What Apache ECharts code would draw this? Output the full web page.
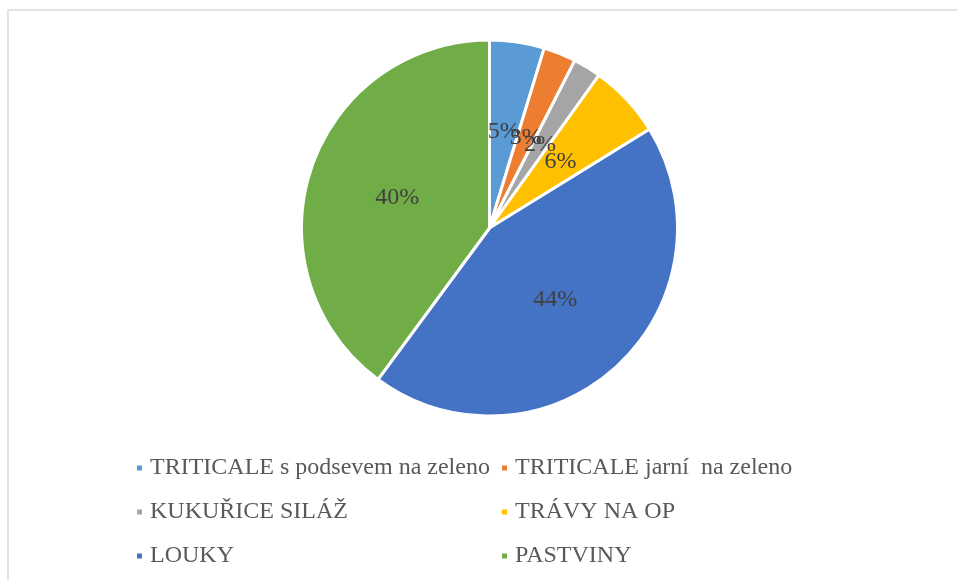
<!DOCTYPE html>
<html>
<head>
<meta charset="utf-8">
<script src="https://cdn.jsdelivr.net/npm/echarts@6/dist/echarts.min.js"></script>
<style>
  html, body { margin: 0; padding: 0; background: #fff; }
  #chart { width: 957px; height: 580px; }
</style>
</head>
<body>
<div id="chart"></div>
<script>
// kategorie a hodnoty
var categories = [
  'TRITICALE s podsevem na zeleno',
  'TRITICALE jarní  na zeleno',
  'KUKUŘICE SILÁŽ',
  'TRÁVY NA OP',
  'LOUKY',
  'PASTVINY'
]
var values = [4.7, 2.8, 2.4, 6.3, 43.9, 39.9]
var colors = ['#5B9BD5', '#ED7D31', '#A5A5A5', '#FFC000', '#4472C4', '#70AD47']

var serif = "'Liberation Serif', 'Times New Roman', serif"

var pieData = categories.map(function (name, i) {
  return { name: name, value: values[i] }
})

var legendText = {
  fontFamily: serif,
  fontSize: 24,
  lineHeight: 24,
  color: '#595959',
  padding: [0, 0, 0, 2]
}

var option = {
  animation: false,
  color: colors,
  graphic: [
    {
      type: 'rect',
      shape: { x: 8, y: 10, width: 960, height: 580 },
      style: { fill: 'none', stroke: '#d9d9d9', lineWidth: 1.5 },
      silent: true
    }
  ],
  legend: [
    {
      orient: 'vertical',
      left: 135,
      top: 456,
      padding: 0,
      itemGap: 20,
      itemWidth: 7,
      itemHeight: 7,
      icon: 'rect',
      data: [categories[0], categories[2], categories[4]],
      textStyle: legendText
    },
    {
      orient: 'vertical',
      left: 500,
      top: 456,
      padding: 0,
      itemGap: 20,
      itemWidth: 7,
      itemHeight: 7,
      icon: 'rect',
      data: [categories[1], categories[3], categories[5]],
      textStyle: legendText
    }
  ],
  series: [
    {
      type: 'pie',
      center: [489.5, 228],
      radius: [0, 188],
      startAngle: 90,
      clockwise: true,
      avoidLabelOverlap: false,
      itemStyle: {
        borderColor: '#ffffff',
        borderWidth: 3
      },
      label: {
        show: true,
        position: 'inside',
        fontFamily: serif,
        fontSize: 24,
        color: '#404040',
        formatter: function (p) {
          return Math.round(p.percent) + '%'
        }
      },
      labelLayout: { hideOverlap: false },
      labelLine: { show: false },
      emphasis: { disabled: true },
      data: pieData
    }
  ]
}

var myChart = echarts.init(document.getElementById('chart'))
myChart.setOption(option)
</script>
</body>
</html>
